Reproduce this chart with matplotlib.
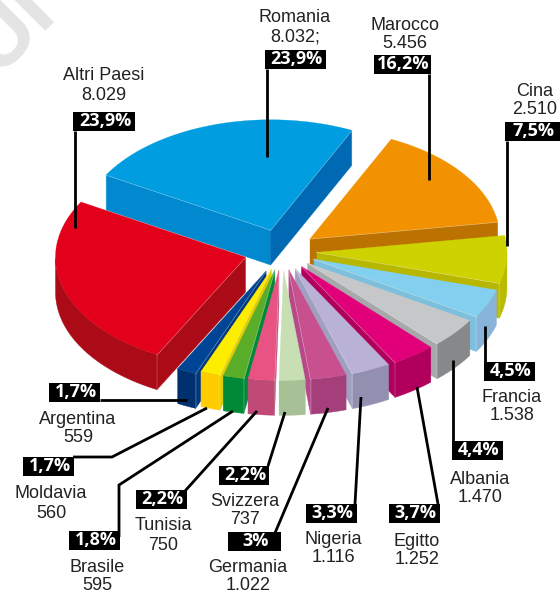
import numpy as np
import matplotlib
matplotlib.use('Agg')
import matplotlib.pyplot as plt
from matplotlib.patches import Polygon

countries = ['Romania', 'Marocco', 'Cina', 'Francia', 'Albania', 'Egitto', 'Nigeria',
             'Germania', 'Svizzera', 'Tunisia', 'Brasile', 'Moldavia', 'Argentina', 'Altri Paesi']
values = [8032, 5456, 2510, 1538, 1470, 1252, 1116, 1022, 737, 750, 595, 560, 559, 8029]
value_labels = ['8.032;', '5.456', '2.510', '1.538', '1.470', '1.252', '1.116',
                '1.022', '737', '750', '595', '560', '559', '8.029']
pct_labels = ['23,9%', '16,2%', '7,5%', '4,5%', '4,4%', '3,7%', '3,3%',
              '3%', '2,2%', '2,2%', '1,8%', '1,7%', '1,7%', '23,9%']

# style: top, radial side (clockwise edge), radial side (other edge), outer side
colors = {
    'Romania': ('#009ee0', '#0089cf', '#0069b4', '#0069b4'),
    'Marocco': ('#f39200', '#bc7200', '#bc7200', '#bc7200'),
    'Cina': ('#cdd200', '#b7b700', '#b7b700', '#b9bb00'),
    'Francia': ('#83cfef', '#7cc0de', '#7cc0de', '#88b4dc'),
    'Albania': ('#c6c7c8', '#a7a8aa', '#a7a8aa', '#878889'),
    'Egitto': ('#e2007a', '#b1005c', '#b1005c', '#b1005c'),
    'Nigeria': ('#b9b2d6', '#a09fc0', '#a09fc0', '#928fb0'),
    'Germania': ('#c9508f', '#b8488a', '#b8488a', '#a53f7c'),
    'Svizzera': ('#c8dfb3', '#a8c095', '#a8c095', '#a8c095'),
    'Tunisia': ('#e95384', '#c04a76', '#c04a76', '#c04a76'),
    'Brasile': ('#5aad28', '#00893a', '#00893a', '#008a37'),
    'Moldavia': ('#ffed00', '#e0cc00', '#e0cc00', '#fecc00'),
    'Argentina': ('#004595', '#00377f', '#00377f', '#00306f'),
    'Altri Paesi': ('#e2001a', '#ab0a17', '#c60018', '#ab0a17'),
}
explode = [38, 35, 35, 35, 33, 33, 33, 33, 33, 33, 33, 33, 38, 38]
draw_order = ['Romania', 'Marocco', 'Cina', 'Francia', 'Albania', 'Egitto', 'Nigeria', 'Germania',
              'Altri Paesi', 'Argentina', 'Moldavia', 'Brasile', 'Tunisia', 'Svizzera']

# layout in pixels: name x, name y, value y, badge (x0, x1, y0), leader line
layout = {
    'Romania': (295, 18, 37, (265, 326, 50), [(267, 69), (267, 157)]),
    'Marocco': (405, 25, 44, (374, 431, 55), [(429, 74), (429, 180)]),
    'Cina': (535, 92, 110, (505, 560, 122), [(507, 141), (507, 246)]),
    'Francia': (512, 398, 416, (484, 535, 362), [(485, 326), (485, 362)]),
    'Albania': (480, 479, 498, (452, 503, 441), [(453, 360), (453, 441)]),
    'Egitto': (417, 541, 560, (389, 440, 504), [(417, 387), (438, 504)]),
    'Nigeria': (333, 539, 558, (306, 357, 504), [(361, 397), (355, 504)]),
    'Germania': (248, 567, 586, (228, 281, 532), [(328, 408), (275, 533)]),
    'Svizzera': (245, 501, 519, (219, 269, 466), [(285, 412), (268, 466)]),
    'Tunisia': (163, 526, 545, (136, 187, 490), [(257, 411), (185, 491)]),
    'Brasile': (97, 567, 586, (69, 120, 531), [(233, 411), (119, 485), (119, 537)]),
    'Moldavia': (51, 494, 513, (23, 74, 457), [(207, 408), (112, 457), (73, 457)]),
    'Argentina': (78, 419, 437, (49, 100, 383), [(100, 400), (187, 400)]),
    'Altri Paesi': (104, 75, 95, (73, 135, 112), [(75, 131), (75, 228)]),
}

CX, CY = 282, 251
RADIUS = 190
SQUASH = 0.58
DEPTH = 35
START = -60
# the drawing is not a true projection: slices lean back a few degrees towards the front
WARP_AT = [-60, 26, 84, 111, 127, 214, 300]
WARP_BY = [0, -0.7, -3.2, -5, -6.4, -6.3, 0]


def warp(angle):
    return angle + np.interp(angle, WARP_AT, WARP_BY)


def to_xy(angle, r):
    a = np.radians(angle)
    return np.sin(a) * r, -np.cos(a) * r * SQUASH


fig = plt.figure(figsize=(5.6, 5.93), dpi=100)
ax = fig.add_axes([0, 0, 1, 1])
ax.set_xlim(0, 560)
ax.set_ylim(593, 0)
ax.axis('off')

ax.text(12, 28, 'UI', fontsize=62, color='#e4e4e4', rotation=45, family='Liberation Sans',
        fontweight='bold', ha='center', va='center', zorder=0)

shares = np.array(values) / sum(values) * 360
edges = START + np.concatenate([[0], np.cumsum(shares)])

for i_z, name in enumerate(draw_order):
    i = countries.index(name)
    a0, a1 = warp(edges[i]), warp(edges[i + 1])
    top, side_a, side_b, outer = colors[name]
    ox, oy = to_xy((a0 + a1) / 2, explode[i])
    apex = np.array([CX + ox, CY + oy])
    angles = np.linspace(a0, a1, 40)
    arc = np.array([apex + to_xy(a, RADIUS) for a in angles])
    z = 2 + i_z
    down = np.array([0, DEPTH])

    # outer wall, only the part turned to the viewer
    front = (np.cos(np.radians(angles)) < 0)
    if front.any():
        wall = arc[front]
        ax.add_patch(Polygon(np.vstack([wall, (wall + down)[::-1]]), fc=outer, ec=outer, lw=0.3, zorder=z))

    # radial walls, painted when the edge faces down the page
    for end, col, sign in ((arc[0], side_a, -1), (arc[-1], side_b, 1)):
        d = end - apex
        normal_y = sign * d[0]
        if normal_y > 0:
            ax.add_patch(Polygon([apex, end, end + down, apex + down], fc=col, ec=col, lw=0.3, zorder=z))
            ax.plot([end[0], end[0]], [end[1], end[1] + DEPTH], color='white', lw=0.3, alpha=0.5, zorder=z)
            ax.plot([apex[0], end[0]], [apex[1], end[1]], color='white', lw=0.8, alpha=0.6, zorder=z)

    ax.add_patch(Polygon(np.vstack([apex, arc]), fc=top, ec=top, lw=0.2, zorder=z + 0.5))

for i, name in enumerate(countries):
    x, y_name, y_val, (bx0, bx1, by0), line = layout[name]
    ax.text(x, y_name, name, fontsize=13, family='Liberation Sans', color='#222222',
            ha='center', va='center', zorder=30)
    ax.text(x, y_val, value_labels[i], fontsize=13, family='Liberation Sans', color='#222222',
            ha='center', va='center', zorder=30)
    xs, ys = zip(*line)
    ax.plot(xs, ys, color='black', lw=2, solid_capstyle='butt', solid_joinstyle='miter', zorder=31)
    ax.fill_between([bx0, bx1], by0, by0 + 19, color='black', lw=0, zorder=32)
    ax.text((bx0 + bx1) / 2 + 1, by0 + 9, pct_labels[i], fontsize=13, family='Open Sans', fontweight='bold',
            color='white', ha='center', va='center', zorder=33)

fig.savefig('out.png', dpi=100)
